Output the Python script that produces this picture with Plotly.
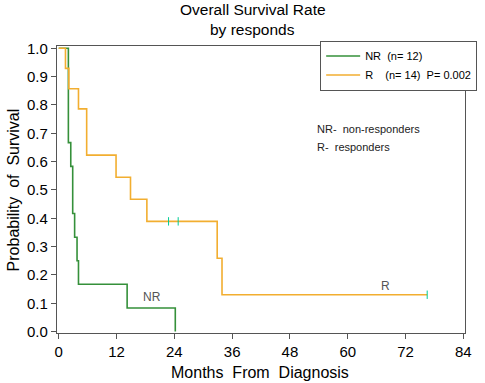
import plotly.graph_objects as go

# ---- data ----
nr_times = [0, 2.0, 2.5, 2.9, 3.3, 3.8, 4.1, 14.2, 24.2]
nr_surv = [1.0, 0.667, 0.583, 0.417, 0.333, 0.25, 0.167, 0.083, 0.0]

r_times = [0, 1.4, 2.1, 4.1, 5.8, 11.9, 14.9, 18.3, 32.9, 33.9]
r_surv = [1.0, 0.929, 0.857, 0.786, 0.623, 0.545, 0.467, 0.389, 0.259, 0.130]
r_last_time = 76.5

r_cens_times = [22.8, 24.8, 76.5]
r_cens_surv = [0.389, 0.389, 0.130]

x_ticks = [0, 12, 24, 36, 48, 60, 72, 84]
y_ticks = [0.0, 0.1, 0.2, 0.3, 0.4, 0.5, 0.6, 0.7, 0.8, 0.9, 1.0]

GREEN = "#35903A"
ORANGE = "#F2AE30"
FONT = "Liberation Sans, Arial, sans-serif"

fig = go.Figure()

fig.add_trace(go.Scatter(
    x=nr_times, y=nr_surv, mode="lines", line_shape="hv",
    line=dict(color=GREEN, width=1.6),
    name="NR\u00a0\u00a0(n=\u00a012)"))

fig.add_trace(go.Scatter(
    x=r_times + [r_last_time], y=r_surv + [r_surv[-1]], mode="lines", line_shape="hv",
    line=dict(color=ORANGE, width=1.6),
    name="R\u00a0\u00a0\u00a0\u00a0(n=\u00a014)\u00a0\u00a0P=\u00a00.002"))

fig.add_trace(go.Scatter(
    x=r_cens_times, y=r_cens_surv, mode="markers", showlegend=False,
    marker=dict(symbol="line-ns-open", size=6, line=dict(color=ORANGE, width=1))))

axis_common = dict(
    showgrid=False, zeroline=False, showline=True, linecolor="#555555", linewidth=1.2,
    mirror=True, ticks="outside", ticklen=5, tickcolor="#555555",
    tickfont=dict(family=FONT, size=15, color="#000000"),
)

fig.update_layout(
    width=485, height=383,
    margin=dict(l=57, r=8, t=46, b=50),
    paper_bgcolor="white", plot_bgcolor="white",
    font=dict(family=FONT, color="#000000"),
    xaxis=dict(range=[-0.36, 84.35], tickvals=x_ticks, **axis_common),
    yaxis=dict(range=[-0.005, 1.008], tickvals=y_ticks, tickformat=".1f", **axis_common),
    legend=dict(
        x=0.645, y=1.019, xanchor="left", yanchor="top",
        bordercolor="#555555", borderwidth=1, bgcolor="white",
        font=dict(family=FONT, size=11, color="#000000"),
        tracegroupgap=0, itemwidth=34,
    ),
    showlegend=True,
)

annotations = [
    dict(text="Overall Survival Rate", x=0.481, y=1.127, xref="paper", yref="paper",
         showarrow=False, font=dict(family=FONT, size=15.5), xanchor="center", yanchor="middle"),
    dict(text="by responds", x=0.479, y=1.058, xref="paper", yref="paper",
         showarrow=False, font=dict(family=FONT, size=15.5), xanchor="center", yanchor="middle"),
    dict(text="Probability\u00a0\u00a0of\u00a0\u00a0Survival", x=-0.107, y=0.498, xref="paper", yref="paper",
         showarrow=False, textangle=-90, font=dict(family=FONT, size=16),
         xanchor="center", yanchor="middle"),
    dict(text="Months\u00a0\u00a0From\u00a0\u00a0Diagnosis", x=0.498, y=-0.139, xref="paper", yref="paper",
         showarrow=False, font=dict(family=FONT, size=16), xanchor="center", yanchor="middle"),
    dict(text="NR-\u00a0\u00a0non-responders", x=0.633, y=0.711, xref="paper", yref="paper",
         showarrow=False, font=dict(family=FONT, size=11, color="#222222"),
         xanchor="left", yanchor="middle"),
    dict(text="R-\u00a0\u00a0responders", x=0.633, y=0.648, xref="paper", yref="paper",
         showarrow=False, font=dict(family=FONT, size=11, color="#222222"),
         xanchor="left", yanchor="middle"),
    dict(text="NR", x=19.4, y=0.122, xref="x", yref="y", showarrow=False,
         font=dict(family=FONT, size=12, color="#555555")),
    dict(text="R", x=67.8, y=0.161, xref="x", yref="y", showarrow=False,
         font=dict(family=FONT, size=12, color="#555555")),
]
fig.update_layout(annotations=annotations)

fig.write_html(
    "out.html",
    config={"displayModeBar": False},
    post_script="document.body.style.margin='0';document.body.style.padding='0';",
)
